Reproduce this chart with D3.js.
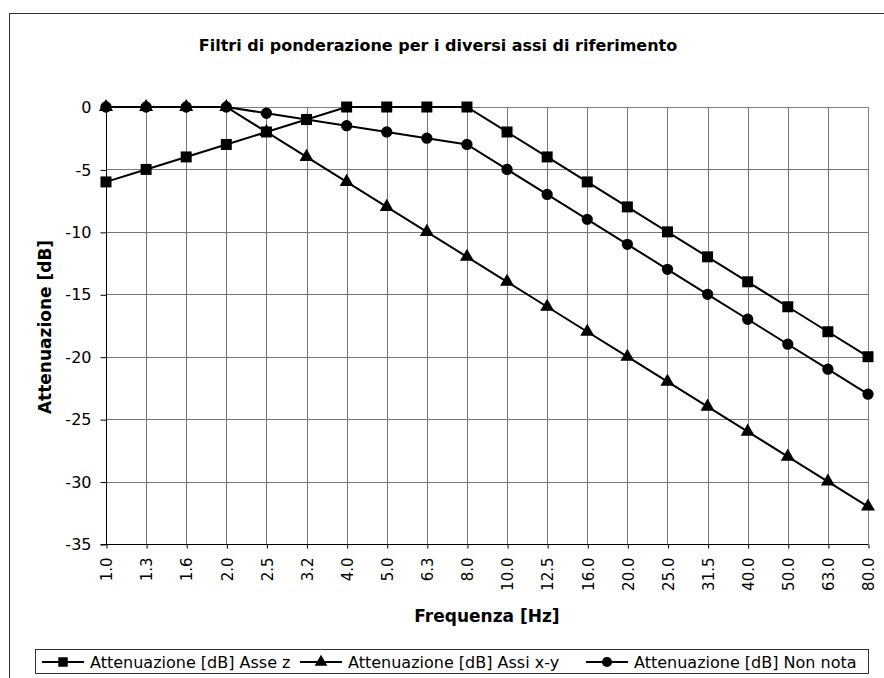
<html>
  <head>
    <meta charset="UTF-8">
    <script src="https://d3js.org/d3.v7.min.js"></script>
    <style>
      body {
        margin: 0;
        font-family: "DejaVu Sans", sans-serif;
        background: #fff;
      }
      svg text {
        fill: #000;
      }
    </style>
  </head>
  <body>
    <svg width="884" height="678"></svg>
    <script>
      // frequencies (categories) and attenuation series
      const frequencies = ["1.0", "1.3", "1.6", "2.0", "2.5", "3.2", "4.0", "5.0", "6.3", "8.0",
        "10.0", "12.5", "16.0", "20.0", "25.0", "31.5", "40.0", "50.0", "63.0", "80.0"];
      const asseZ = [-6, -5, -4, -3, -2, -1, 0, 0, 0, 0, -2, -4, -6, -8, -10, -12, -14, -16, -18, -20];
      const assiXY = [0, 0, 0, 0, -2, -4, -6, -8, -10, -12, -14, -16, -18, -20, -22, -24, -26, -28, -30, -32];
      const nonNota = [0, 0, 0, 0, -0.5, -1, -1.5, -2, -2.5, -3, -5, -7, -9, -11, -13, -15, -17, -19, -21, -23];
      const yTicks = [0, -5, -10, -15, -20, -25, -30, -35];

      const series = [
        { name: "Attenuazione [dB] Asse z", values: asseZ, symbol: d3.symbolSquare, size: 121, legendSize: 90 },
        { name: "Attenuazione [dB] Assi x-y", values: assiXY, symbol: d3.symbolTriangle, size: 85, legendSize: 70 },
        { name: "Attenuazione [dB] Non nota", values: nonNota, symbol: d3.symbolCircle, size: 100, legendSize: 80 }
      ];

      const svg = d3.select("svg");
      const plotL = 106, plotR = 868, plotT = 107, plotB = 544;

      const x = d3.scalePoint().domain(frequencies).range([plotL, plotR]);
      const y = d3.scaleLinear().domain([-35, 0]).range([plotB, plotT]);

      // outer chart border (right/bottom run off the picture)
      svg.append("rect")
        .attr("x", 9.5).attr("y", 13.5)
        .attr("width", 1000).attr("height", 1000)
        .attr("fill", "none")
        .attr("stroke", "#333");

      svg.append("text")
        .attr("x", 438).attr("y", 51)
        .attr("text-anchor", "middle")
        .style("font-size", "16px")
        .style("font-weight", "bold")
        .text("Filtri di ponderazione per i diversi assi di riferimento");

      // grid
      const grid = svg.append("g")
        .attr("stroke", "#777")
        .attr("shape-rendering", "crispEdges");

      grid.selectAll("line.h")
        .data(yTicks)
        .join("line")
        .attr("class", "h")
        .attr("x1", plotL).attr("x2", plotR)
        .attr("y1", (d) => Math.round(y(d)) + 0.5)
        .attr("y2", (d) => Math.round(y(d)) + 0.5);

      grid.selectAll("line.v")
        .data(frequencies)
        .join("line")
        .attr("class", "v")
        .attr("y1", plotT).attr("y2", plotB)
        .attr("x1", (d) => Math.round(x(d)) + 0.5)
        .attr("x2", (d) => Math.round(x(d)) + 0.5);

      // y axis
      const yAxis = svg.append("g")
        .attr("transform", `translate(${plotL + 0.5},0.5)`)
        .call(d3.axisLeft(y).tickValues(yTicks).tickSize(6).tickPadding(9).tickFormat(d3.format("d")));
      yAxis.select(".domain").attr("stroke", "#000").attr("d", `M0,${plotT}V${plotB}`);
      yAxis.selectAll(".tick line").attr("stroke", "#000");
      yAxis.selectAll(".tick text")
        .style("font-family", "DejaVu Sans")
        .style("font-size", "16px")
        .text((d) => String(d).replace("−", "-"));

      // x axis
      const xAxis = svg.append("g")
        .attr("transform", `translate(0.5,${plotB + 0.5})`)
        .call(d3.axisBottom(x).tickSize(4).tickPadding(0));
      xAxis.select(".domain").attr("stroke", "#000").attr("d", `M${plotL - 6},0H${plotR}`);
      xAxis.selectAll(".tick line").attr("stroke", "#000");
      xAxis.selectAll(".tick text")
        .style("font-family", "DejaVu Sans")
        .style("font-size", "15px")
        .attr("text-anchor", "end")
        .attr("transform", "rotate(-90)")
        .attr("x", -13)
        .attr("y", 0)
        .attr("dy", "0.35em");

      svg.append("text")
        .attr("x", (plotL + plotR) / 2).attr("y", 622)
        .attr("text-anchor", "middle")
        .style("font-size", "17px")
        .style("font-weight", "bold")
        .text("Frequenza [Hz]");

      svg.append("text")
        .attr("transform", "translate(51,327) rotate(-90)")
        .attr("text-anchor", "middle")
        .style("font-size", "17px")
        .style("font-weight", "bold")
        .text("Attenuazione [dB]");

      // plot-area border on top and right
      svg.append("path")
        .attr("d", `M${plotL},${plotT + 0.5}H${plotR + 0.5}V${plotB}`)
        .attr("fill", "none")
        .attr("stroke", "#808080")
        .attr("shape-rendering", "crispEdges");

      // series
      const line = d3.line()
        .x((d, i) => x(frequencies[i]))
        .y((d) => y(d));

      const g = svg.selectAll("g.series")
        .data(series)
        .join("g")
        .attr("class", "series");

      g.append("path")
        .attr("d", (s) => line(s.values))
        .attr("fill", "none")
        .attr("stroke", "#000")
        .attr("stroke-width", 2);

      g.each(function (s) {
        d3.select(this).selectAll("path.mark")
          .data(s.values)
          .join("path")
          .attr("class", "mark")
          .attr("transform", (d, i) => `translate(${x(frequencies[i])},${y(d)})`)
          .attr("d", d3.symbol().type(s.symbol).size(s.size))
          .attr("fill", "#000");
      });

      // legend
      const legendX = [42, 300, 586];
      svg.append("rect")
        .attr("x", 35.5).attr("y", 649.5)
        .attr("width", 833).attr("height", 24)
        .attr("fill", "#fff")
        .attr("stroke", "#333");

      const item = svg.selectAll("g.legend")
        .data(series)
        .join("g")
        .attr("class", "legend")
        .attr("transform", (s, i) => `translate(${legendX[i]},662)`);

      item.append("line")
        .attr("x1", 0).attr("x2", 42)
        .attr("stroke", "#000").attr("stroke-width", 2);
      item.append("path")
        .attr("transform", "translate(21,0)")
        .attr("d", (s) => d3.symbol().type(s.symbol).size(s.legendSize)())
        .attr("fill", "#000");
      item.append("text")
        .attr("x", 48).attr("y", 6)
        .style("font-size", "16px")
        .text((s) => s.name);
    </script>
  </body>
</html>
